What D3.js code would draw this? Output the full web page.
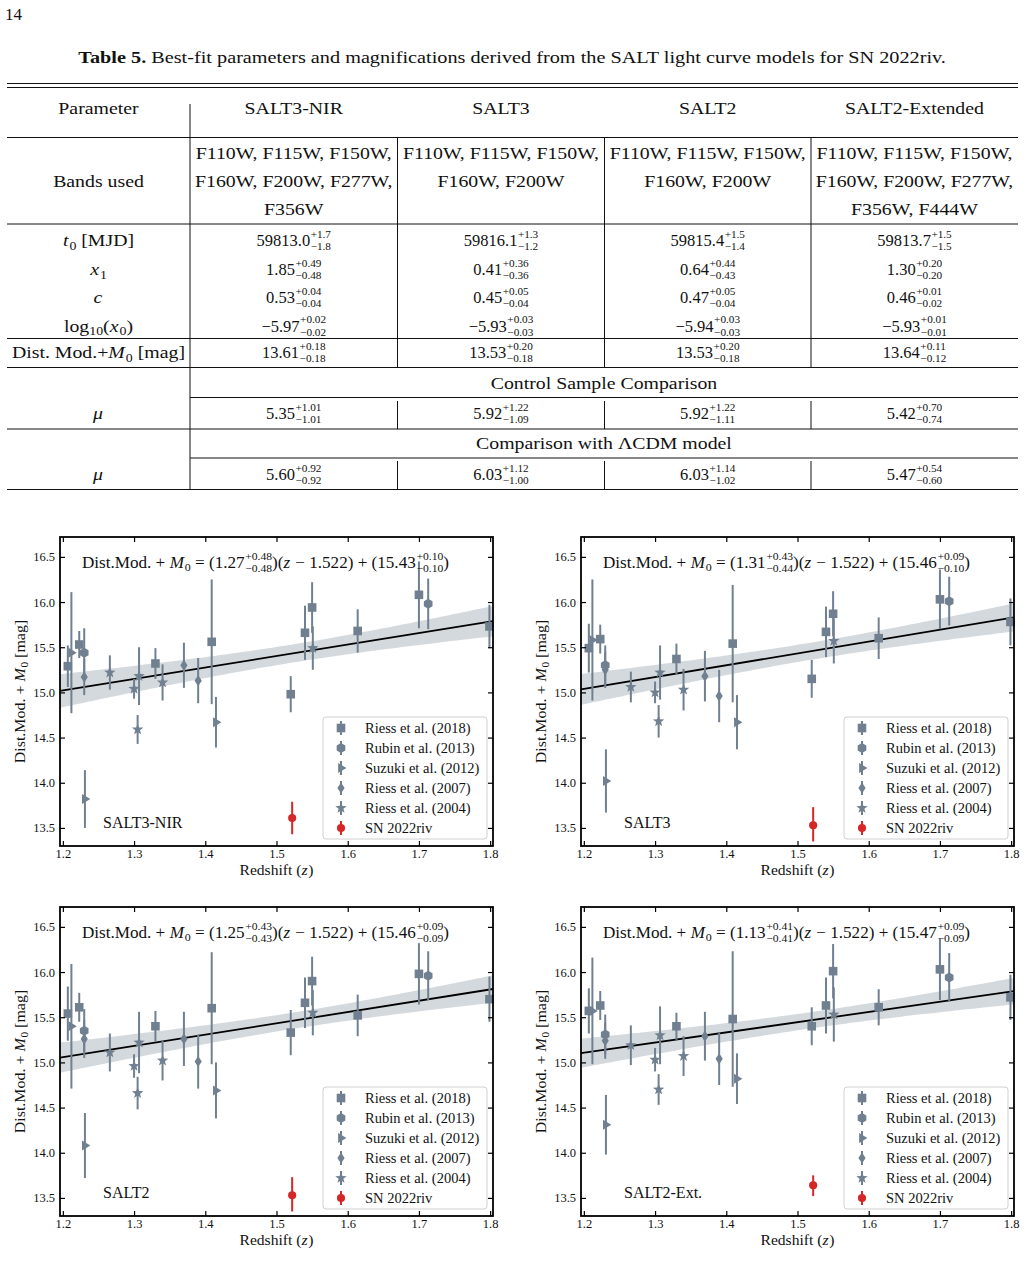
<!DOCTYPE html>
<html>
<head>
<meta charset="utf-8">
<title>SN 2022riv - SALT fits</title>
<style>
  body { margin: 0; background: #fff; }
  svg text { font-family: "Liberation Serif", "Times New Roman", serif; fill: #111; white-space: pre; }
</style>
</head>
<body>
<svg id="page" width="1026" height="1279"></svg>
<script src="https://d3js.org/d3.v7.min.js"></script>
<script>
// ---- table data ----
var tableCols = ["SALT3-NIR", "SALT3", "SALT2", "SALT2-Extended"];
var bandsUsed = [
    ["F110W, F115W, F150W,", "F160W, F200W, F277W,", "F356W"],
    ["F110W, F115W, F150W,", "F160W, F200W"],
    ["F110W, F115W, F150W,", "F160W, F200W"],
    ["F110W, F115W, F150W,", "F160W, F200W, F277W,", "F356W, F444W"]
];
var t0Vals = [["59813.0", "+1.7", "−1.8"], ["59816.1", "+1.3", "−1.2"], ["59815.4", "+1.5", "−1.4"], ["59813.7", "+1.5", "−1.5"]];
var x1Vals = [["1.85", "+0.49", "−0.48"], ["0.41", "+0.36", "−0.36"], ["0.64", "+0.44", "−0.43"], ["1.30", "+0.20", "−0.20"]];
var cVals = [["0.53", "+0.04", "−0.04"], ["0.45", "+0.05", "−0.04"], ["0.47", "+0.05", "−0.04"], ["0.46", "+0.01", "−0.02"]];
var logx0Vals = [["−5.97", "+0.02", "−0.02"], ["−5.93", "+0.03", "−0.03"], ["−5.94", "+0.03", "−0.03"], ["−5.93", "+0.01", "−0.01"]];
var dmVals = [["13.61", "+0.18", "−0.18"], ["13.53", "+0.20", "−0.18"], ["13.53", "+0.20", "−0.18"], ["13.64", "+0.11", "−0.12"]];
var muCtrlVals = [["5.35", "+1.01", "−1.01"], ["5.92", "+1.22", "−1.09"], ["5.92", "+1.22", "−1.11"], ["5.42", "+0.70", "−0.74"]];
var muLcdmVals = [["5.60", "+0.92", "−0.92"], ["6.03", "+1.12", "−1.00"], ["6.03", "+1.14", "−1.02"], ["5.47", "+0.54", "−0.60"]];

// ---- plot data (one row per panel: SALT3-NIR, SALT3, SALT2, SALT2-Ext.) ----
var panelNames = ["SALT3-NIR", "SALT3", "SALT2", "SALT2-Ext."];

var zR18 = [1.207, 1.223, 1.330, 1.409, 1.520, 1.540, 1.550, 1.614, 1.700, 1.799];
var muR18 = [
    [15.29, 15.53, 15.32, 15.56, 14.98, 15.66, 15.94, 15.68, 16.08, 15.73],
    [15.49, 15.59, 15.37, 15.54, 15.15, 15.67, 15.87, 15.60, 16.03, 15.78],
    [15.54, 15.61, 15.40, 15.60, 15.33, 15.66, 15.90, 15.52, 15.98, 15.70],
    [15.57, 15.63, 15.40, 15.48, 15.40, 15.63, 16.01, 15.61, 16.03, 15.72]
];
var errR18 = [
    [0.23, 0.15, 0.17, 0.69, 0.20, 0.30, 0.28, 0.24, 0.37, 0.24],
    [0.27, 0.16, 0.17, 0.65, 0.21, 0.28, 0.25, 0.23, 0.33, 0.26],
    [0.30, 0.16, 0.17, 0.62, 0.25, 0.28, 0.27, 0.23, 0.34, 0.25],
    [0.25, 0.16, 0.15, 0.75, 0.21, 0.31, 0.30, 0.20, 0.34, 0.25]
];

var zR13 = [1.230, 1.713];
var muR13 = [[15.44, 15.98], [15.30, 16.01], [15.35, 15.96], [15.31, 15.94]];
var errR13 = [[0.27, 0.28], [0.22, 0.27], [0.24, 0.27], [0.22, 0.27]];

var zS12 = [1.212, 1.231, 1.415];
var muS12 = [[15.44, 13.82, 14.67], [15.58, 14.02, 14.67], [15.40, 14.08, 14.69], [15.57, 14.31, 14.82]];
var errS12 = [[0.67, 0.32, 0.28], [0.67, 0.35, 0.30], [0.69, 0.36, 0.31], [0.59, 0.33, 0.28]];

var zR07 = [1.230, 1.370, 1.390];
var muR07 = [[15.17, 15.30, 15.13], [15.25, 15.18, 14.96], [15.26, 15.26, 15.01], [15.24, 15.29, 15.04]];
var errR07 = [[0.20, 0.25, 0.25], [0.20, 0.28, 0.29], [0.21, 0.30, 0.30], [0.20, 0.27, 0.29]];

var zR04 = [1.266, 1.300, 1.305, 1.307, 1.340, 1.551];
var muR04 = [
    [15.22, 15.04, 14.59, 15.18, 15.11, 15.49],
    [15.06, 15.00, 14.68, 15.22, 15.03, 15.57],
    [15.11, 14.96, 14.66, 15.22, 15.02, 15.55],
    [15.19, 15.03, 14.70, 15.30, 15.07, 15.53]
];
var errR04 = [
    [0.19, 0.11, 0.16, 0.32, 0.20, 0.24],
    [0.17, 0.12, 0.18, 0.30, 0.23, 0.25],
    [0.21, 0.13, 0.18, 0.34, 0.22, 0.25],
    [0.22, 0.13, 0.17, 0.32, 0.22, 0.30]
];

var zSN = 1.522;
var muSN = [13.61, 13.53, 13.53, 13.64];
var errSNup = [0.18, 0.20, 0.20, 0.11];
var errSNdn = [0.18, 0.18, 0.18, 0.12];

// linear fit: Dist.Mod.+M0 = a (z - 1.522) + b
var zPivot = 1.522;
var fitSlope = [1.27, 1.31, 1.25, 1.13];
var slopeUp = [0.48, 0.43, 0.43, 0.41];
var slopeDn = [0.48, 0.44, 0.43, 0.41];
var fitIcpt = [15.43, 15.46, 15.46, 15.47];
var icptUp = [0.10, 0.09, 0.09, 0.09];
var icptDn = [0.10, 0.10, 0.09, 0.09];

var xTicks = [1.2, 1.3, 1.4, 1.5, 1.6, 1.7, 1.8];
var yTicks = [13.5, 14.0, 14.5, 15.0, 15.5, 16.0, 16.5];

var slate = "#708090";
var snRed = "#d62728";

var svg = d3.select("#page");

// draws a row of text pieces (italic, subscript, stacked +/- errors) one after another
// sx widens the glyphs a bit, Times is narrower than the Computer Modern of the original
function rich(g, x, y, segs, fs, opts) {
    opts = opts || {};
    var sx = opts.sx || 1;
    var outer = g.append("g")
        .attr("transform", "translate(" + x + "," + y + ")" + (opts.rotate ? " rotate(" + opts.rotate + ")" : ""));
    var inner = outer.append("g");
    var cx = 0;
    segs.forEach(function (s) {
        if (typeof s === "string") s = { t: s };
        if (s.up !== undefined) {
            var sm = fs * 0.68;
            var a = inner.append("text").attr("x", cx + 0.5).attr("y", -fs * 0.52).style("font-size", sm + "px").text(s.up);
            var b = inner.append("text").attr("x", cx + 0.5).attr("y", fs * 0.22).style("font-size", sm + "px").text(s.dn);
            cx += 0.5 + Math.max(a.node().getComputedTextLength(), b.node().getComputedTextLength());
            return;
        }
        var size = s.sub ? fs * 0.7 : fs;
        var t = inner.append("text").attr("x", cx).attr("y", s.sub ? fs * 0.2 : 0)
            .style("font-size", size + "px").text(s.t);
        if (s.it) t.style("font-style", "italic");
        if (s.b) t.style("font-weight", "bold");
        cx += t.node().getComputedTextLength() + (s.it ? fs * 0.05 : 0);
    });
    var anchor = opts.anchor || "start";
    var w = cx * sx;
    var shift = anchor === "middle" ? -w / 2 : anchor === "end" ? -w : 0;
    inner.attr("transform", "translate(" + shift + ",0) scale(" + sx + ",1)");
    return w;
}

// ---------------- page header + table ----------------
rich(svg, 5, 20, ["14"], 17);
rich(svg, 512, 63, [{ t: "Table 5.", b: true }, " Best-fit parameters and magnifications derived from the SALT light curve models for SN 2022riv."], 16.2, { anchor: "middle", sx: 1.25 });

var tg = svg.append("g");
var tL = 7, tR = 1018;
var colX = [7, 190, 397.5, 604.5, 811, 1018];
var colC = colX.slice(0, 5).map(function (v, i) { return (v + colX[i + 1]) / 2; });
var tfs = 16.5;
var wide = 1.2;

function hline(y, x0, x1, w) {
    tg.append("line").attr("x1", x0).attr("x2", x1).attr("y1", y).attr("y2", y)
        .attr("stroke", "#111").attr("stroke-width", w || 1);
}
function vline(x, y0, y1) {
    tg.append("line").attr("x1", x).attr("x2", x).attr("y1", y0).attr("y2", y1)
        .attr("stroke", "#111").attr("stroke-width", 1);
}

hline(83.5, tL, tR, 1.2);
hline(87.5, tL, tR, 1.2);
hline(137.5, tL, tR);
hline(224, tL, tR);
hline(338.5, tL, tR);
hline(367.5, tL, tR);
hline(397.5, colX[1], tR);
hline(429, tL, tR);
hline(458, colX[1], tR);
hline(489.5, tL, tR);

vline(colX[1], 104, 489.5);
[2, 3, 4].forEach(function (i) {
    vline(colX[i], 137.5, 367.5);
    vline(colX[i], 401, 429);
    vline(colX[i], 461, 489.5);
});

var bl = tfs * 0.33;
rich(tg, colC[0], 109 + bl, ["Parameter"], tfs, { anchor: "middle", sx: wide });
tableCols.forEach(function (c, i) { rich(tg, colC[i + 1], 109 + bl, [c], tfs, { anchor: "middle", sx: wide }); });

rich(tg, colC[0], 181.5 + bl, ["Bands used"], tfs, { anchor: "middle", sx: wide });
var bandRowY = [153.5, 181.5, 209.5];
bandsUsed.forEach(function (lines, i) {
    lines.forEach(function (l, j) { rich(tg, colC[i + 1], bandRowY[j] + bl, [l], tfs, { anchor: "middle", sx: wide }); });
});

var paramRows = [
    { y: 241, label: [{ t: "t", it: true }, { t: "0", sub: true }, " [MJD]"], vals: t0Vals },
    { y: 270, label: [{ t: "x", it: true }, { t: "1", sub: true }], vals: x1Vals },
    { y: 298, label: [{ t: "c", it: true }], vals: cVals },
    { y: 326.5, label: ["log", { t: "10", sub: true }, "(", { t: "x", it: true }, { t: "0", sub: true }, ")"], vals: logx0Vals },
    { y: 353, label: ["Dist. Mod.+", { t: "M", it: true }, { t: "0", sub: true }, " [mag]"], vals: dmVals },
    { y: 414, label: [{ t: "μ", it: true }], vals: muCtrlVals },
    { y: 475, label: [{ t: "μ", it: true }], vals: muLcdmVals }
];
paramRows.forEach(function (r) {
    rich(tg, colC[0], r.y + bl, r.label, tfs, { anchor: "middle", sx: wide });
    r.vals.forEach(function (v, i) {
        rich(tg, colC[i + 1], r.y + bl, [v[0], { up: v[1], dn: v[2] }], tfs, { anchor: "middle" });
    });
});
rich(tg, (colX[1] + tR) / 2, 384 + bl, ["Control Sample Comparison"], tfs, { anchor: "middle", sx: wide });
rich(tg, (colX[1] + tR) / 2, 444 + bl, ["Comparison with ΛCDM model"], tfs, { anchor: "middle", sx: wide });

// ---------------- plots ----------------
var pw = 433, ph = 309;
var panelPos = [[60, 537], [581, 537], [60, 907], [581, 907]];
var x = d3.scaleLinear().domain([1.196, 1.804]).range([0, pw]);
var y = d3.scaleLinear().domain([13.3, 16.72]).range([ph, 0]);

function markerPath(kind) {
    var pts, i, a;
    if (kind === "square") return "M-4.3,-4.3H4.3V4.3H-4.3Z";
    if (kind === "hex") {
        pts = [];
        for (i = 0; i < 6; i++) { a = -Math.PI / 2 + i * Math.PI / 3; pts.push([5 * Math.cos(a), 5 * Math.sin(a)]); }
        return "M" + pts.join("L") + "Z";
    }
    if (kind === "tri") return "M5.4,0L-2.9,-5L-2.9,5Z";
    if (kind === "thin") return "M0,-5.6L3.6,0L0,5.6L-3.6,0Z";
    if (kind === "star") {
        pts = [];
        for (i = 0; i < 10; i++) {
            a = -Math.PI / 2 + i * Math.PI / 5;
            var rr = i % 2 === 0 ? 6 : 2.5;
            pts.push([rr * Math.cos(a), rr * Math.sin(a)]);
        }
        return "M" + pts.join("L") + "Z";
    }
    return d3.symbol(d3.symbolCircle, 52)();
}

var sets = [
    { name: "Riess et al. (2018)", kind: "square", z: zR18, mu: muR18, err: errR18 },
    { name: "Rubin et al. (2013)", kind: "hex", z: zR13, mu: muR13, err: errR13 },
    { name: "Suzuki et al. (2012)", kind: "tri", z: zS12, mu: muS12, err: errS12 },
    { name: "Riess et al. (2007)", kind: "thin", z: zR07, mu: muR07, err: errR07 },
    { name: "Riess et al. (2004)", kind: "star", z: zR04, mu: muR04, err: errR04 }
];

panelPos.forEach(function (pos, p) {
    var g = svg.append("g").attr("transform", "translate(" + pos[0] + "," + pos[1] + ")");

    // fit line with its 1-sigma band
    var sa = (slopeUp[p] + slopeDn[p]) / 2, sb = (icptUp[p] + icptDn[p]) / 2;
    var fit = function (z) { return fitSlope[p] * (z - zPivot) + fitIcpt[p]; };
    var hw = function (z) { return Math.sqrt(sb * sb + Math.pow(sa * (z - zPivot), 2)); };
    var zs = d3.range(0, 101).map(function (k) { return x.domain()[0] + k * (x.domain()[1] - x.domain()[0]) / 100; });
    g.append("path").datum(zs)
        .attr("d", d3.area().x(function (z) { return x(z); })
            .y0(function (z) { return y(fit(z) - hw(z)); })
            .y1(function (z) { return y(fit(z) + hw(z)); }))
        .attr("fill", slate).attr("fill-opacity", 0.3);
    g.append("path").datum(x.domain())
        .attr("d", d3.line().x(function (z) { return x(z); }).y(function (z) { return y(fit(z)); }))
        .attr("stroke", "#000").attr("stroke-width", 1.8).attr("fill", "none");

    // data sets
    sets.forEach(function (s) {
        var rows = s.z.map(function (z, i) { return { z: z, mu: s.mu[p][i], e: s.err[p][i] }; });
        var sg = g.append("g");
        sg.selectAll("line").data(rows).enter().append("line")
            .attr("x1", function (d) { return x(d.z); }).attr("x2", function (d) { return x(d.z); })
            .attr("y1", function (d) { return y(d.mu + d.e); }).attr("y2", function (d) { return y(d.mu - d.e); })
            .attr("stroke", slate).attr("stroke-width", 2);
        sg.selectAll("path").data(rows).enter().append("path")
            .attr("d", markerPath(s.kind))
            .attr("transform", function (d) { return "translate(" + x(d.z) + "," + y(d.mu) + ")"; })
            .attr("fill", slate);
    });
    g.append("line")
        .attr("x1", x(zSN)).attr("x2", x(zSN))
        .attr("y1", y(muSN[p] + errSNup[p])).attr("y2", y(muSN[p] - errSNdn[p]))
        .attr("stroke", snRed).attr("stroke-width", 2);
    g.append("path").attr("d", markerPath("circle"))
        .attr("transform", "translate(" + x(zSN) + "," + y(muSN[p]) + ")")
        .attr("fill", snRed);

    // axes: inward ticks on all four sides
    var fmt = d3.format(".1f");
    var axB = g.append("g").attr("transform", "translate(0," + ph + ")")
        .call(d3.axisBottom(x).tickValues(xTicks).tickSize(-5).tickPadding(3.5).tickFormat(fmt));
    var axT = g.append("g").call(d3.axisTop(x).tickValues(xTicks).tickSize(-5).tickFormat(""));
    var axL = g.append("g").call(d3.axisLeft(y).tickValues(yTicks).tickSize(-5).tickPadding(5).tickFormat(fmt));
    var axR = g.append("g").attr("transform", "translate(" + pw + ",0)")
        .call(d3.axisRight(y).tickValues(yTicks).tickSize(-5).tickFormat(""));
    [axB, axT, axL, axR].forEach(function (ax) {
        ax.select(".domain").remove();
        ax.selectAll(".tick line").attr("stroke", "#000").attr("stroke-width", 1.2);
        ax.selectAll(".tick text").style("font-size", "12.5px").attr("fill", "#222");
    });
    g.append("rect").attr("width", pw).attr("height", ph)
        .attr("fill", "none").attr("stroke", "#000").attr("stroke-width", 1.8);

    // labels
    rich(g, pw / 2, ph + 29, ["Redshift (", { t: "z", it: true }, ")"], 15, { anchor: "middle", sx: 1.04 });
    rich(g, -35, ph / 2, ["Dist.Mod. + ", { t: "M", it: true }, { t: "0", sub: true }, " [mag]"], 14.5,
        { anchor: "middle", rotate: -90, sx: 1.1 });
    var f2 = d3.format(".2f");
    rich(g, 22, 31, [
        "Dist.Mod. + ", { t: "M", it: true }, { t: "0", sub: true },
        " = (" + f2(fitSlope[p]), { up: "+" + f2(slopeUp[p]), dn: "−" + f2(slopeDn[p]) },
        ")(", { t: "z", it: true }, " − 1.522) + (" + f2(fitIcpt[p]),
        { up: "+" + f2(icptUp[p]), dn: "−" + f2(icptDn[p]) }, ")"
    ], 16, { sx: 1.07 });
    rich(g, 43, 291, [panelNames[p]], 16);

    // legend
    var lg = g.append("g").attr("transform", "translate(263,180)");
    lg.append("rect").attr("width", 164).attr("height", 122).attr("rx", 3)
        .attr("fill", "#fff").attr("fill-opacity", 0.8).attr("stroke", "#d0d0d0").attr("stroke-width", 1);
    var items = sets.map(function (s) { return { name: s.name, kind: s.kind, color: slate }; })
        .concat([{ name: "SN 2022riv", kind: "circle", color: snRed }]);
    items.forEach(function (it, i) {
        var ly = 11 + i * 20;
        lg.append("line").attr("x1", 18).attr("x2", 18).attr("y1", ly - 7).attr("y2", ly + 7)
            .attr("stroke", it.color).attr("stroke-width", 2);
        lg.append("path").attr("d", markerPath(it.kind))
            .attr("transform", "translate(18," + ly + ")").attr("fill", it.color);
        rich(lg, 42, ly + 5, [it.name], 14.5);
    });
});
</script>
</body>
</html>
